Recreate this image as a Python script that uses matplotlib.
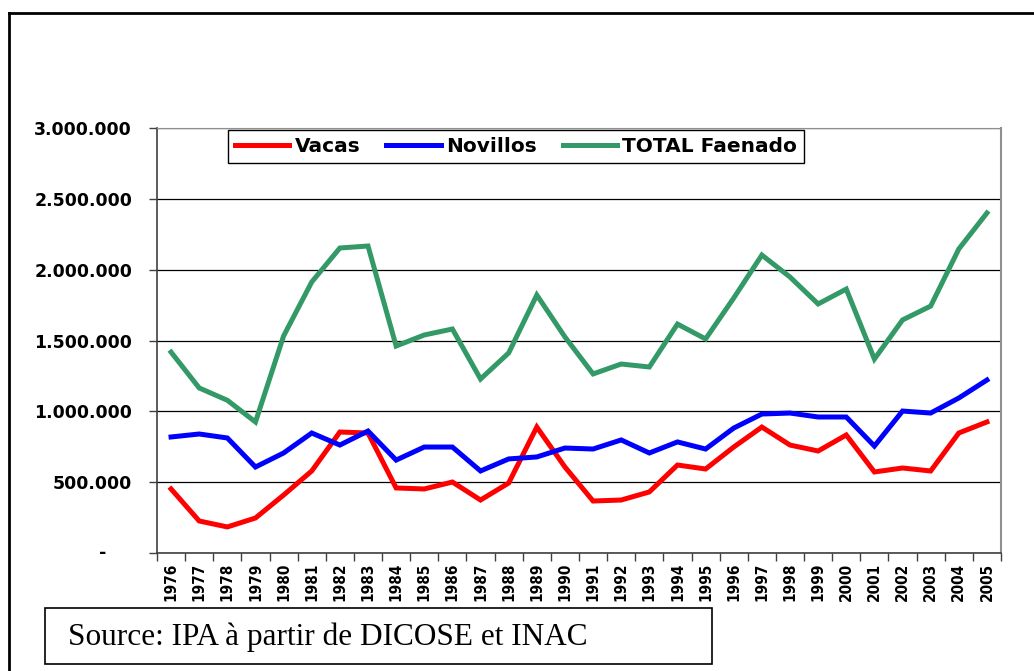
import numpy as np
import matplotlib.pyplot as plt
from matplotlib.lines import Line2D
from matplotlib.patches import Rectangle
from matplotlib.ticker import FuncFormatter

years = [str(y) for y in range(1976, 2006)]

vacas = [452000, 226000, 184000, 247000, 409000, 579000, 854000, 847000, 459000, 452000,
         501000, 374000, 494000, 889000, 607000, 367000, 374000, 431000, 621000, 593000,
         748000, 889000, 762000, 720000, 833000, 572000, 600000, 579000, 847000, 925000]

novillos = [819000, 840000, 812000, 607000, 706000, 847000, 762000, 861000, 656000, 748000,
            748000, 579000, 664000, 678000, 741000, 734000, 798000, 706000, 784000, 734000,
            882000, 981000, 988000, 960000, 960000, 755000, 1002000, 988000, 1094000, 1221000]

total = [1418000, 1165000, 1078000, 925000, 1532000, 1913000, 2153000, 2167000, 1461000, 1539000,
         1581000, 1228000, 1412000, 1821000, 1525000, 1264000, 1334000, 1313000, 1616000, 1511000,
         1800000, 2103000, 1948000, 1758000, 1863000, 1369000, 1645000, 1743000, 2146000, 2400000]

series = [("Vacas", vacas, "#ff0000"),
          ("Novillos", novillos, "#0000ff"),
          ("TOTAL Faenado", total, "#339966")]

source = "Source: IPA à partir de DICOSE et INAC"

W, H = 1034, 671
fig = plt.figure(figsize=(W / 100, H / 100), dpi=100)
ax = fig.add_axes([157 / W, 1 - 553 / H, (1001 - 157) / W, (553 - 128) / H])

x = np.arange(len(years))
for name, vals, col in series:
    ax.plot(x, vals, color=col, lw=3.6, label=name, solid_joinstyle="miter")

ax.set_xlim(-0.5, len(years) - 0.5)
ax.set_ylim(0, 3000000)
ax.set_yticks(np.arange(0, 3000001, 500000))
ax.yaxis.set_major_formatter(FuncFormatter(
    lambda v, p: "" if v == 0 else f"{int(v):,}".replace(",", ".")))
ax.grid(axis="y", color="black", lw=0.9)
ax.set_axisbelow(True)

ax.set_xticks(x)
ax.set_xticklabels(years, rotation=90, fontsize=11, fontweight="bold",
                   family="DejaVu Sans", fontstretch="condensed")
ax.set_xticks(np.arange(-0.5, len(years), 1), minor=True)
ax.tick_params(axis="x", which="major", length=0, pad=7)
ax.tick_params(axis="x", which="minor", length=6, width=1, color="#404040")
ax.tick_params(axis="y", length=6, width=1, color="#404040", pad=12)
for lab in ax.get_yticklabels():
    lab.set_fontsize(12.5)
    lab.set_fontweight("bold")

ax.annotate("-", xy=(0, 0), xycoords=("axes fraction", "data"), xytext=(-39, 0),
            textcoords="offset points", ha="center", va="center",
            fontsize=12.5, fontweight="bold")

for s in ["left", "bottom"]:
    ax.spines[s].set_color("#404040")
    ax.spines[s].set_linewidth(1.2)
ax.spines["top"].set_color("#909090")
ax.spines["right"].set_color("#909090")
ax.spines["right"].set_linewidth(1.5)

leg = ax.legend(loc="upper left", bbox_to_anchor=(228 / W, 1 - 130 / H),
                bbox_transform=fig.transFigure, ncol=3, frameon=True, fancybox=False,
                edgecolor="black", framealpha=1, borderaxespad=0, borderpad=0.35,
                handlelength=2.7, handletextpad=0.25, columnspacing=1.3,
                prop={"weight": "bold", "size": 14.5})
leg.get_frame().set_linewidth(1)

# outer frame (top and left only)
fig.add_artist(Line2D([9 / W, 1], [1 - 13 / H, 1 - 13 / H], color="black", lw=2,
                      transform=fig.transFigure))
fig.add_artist(Line2D([9 / W, 9 / W], [0, 1 - 13 / H], color="black", lw=2,
                      transform=fig.transFigure))

# source box
fig.add_artist(Rectangle((45 / W, 1 - 664 / H), 667 / W, 56 / H, fill=False,
                         edgecolor="black", lw=1.2, transform=fig.transFigure))
fig.text(68 / W, 1 - 637 / H, source, family="Liberation Serif", fontsize=22.5,
         ha="left", va="center")

fig.savefig("out.png", dpi=100)
